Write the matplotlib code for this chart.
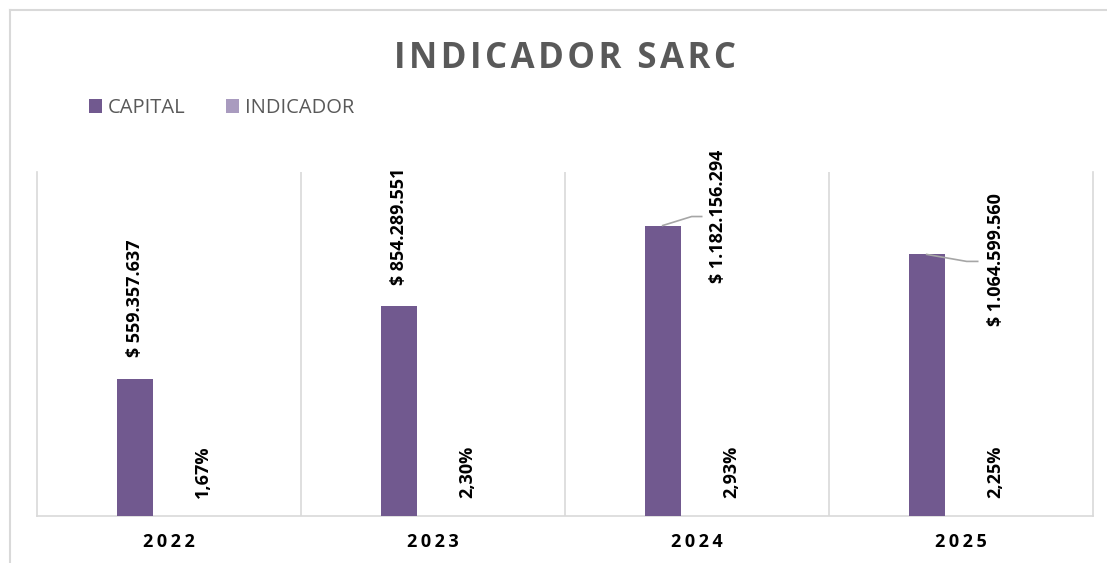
import matplotlib
matplotlib.use("Agg")
import matplotlib.pyplot as plt
from matplotlib.lines import Line2D
from matplotlib.transforms import IdentityTransform

plt.rcParams['font.family'] = ['Open Sans', 'DejaVu Sans']

years = ["2022", "2023", "2024", "2025"]
capital = [559357637, 854289551, 1182156294, 1064599560]
indicador = [0.0167, 0.0230, 0.0293, 0.0225]
capital_labels = ["$ 559.357.637", "$ 854.289.551", "$ 1.182.156.294", "$ 1.064.599.560"]
indicador_labels = ["1,67%", "2,30%", "2,93%", "2,25%"]

C_CAP = '#71598F'
C_IND = '#A99BBF'
GRID = '#D9D9D9'
HS = '\u200a'

W, H = 1107, 563
fig = plt.figure(figsize=(W / 100, H / 100), dpi=100)
ax = fig.add_axes([37 / W, 1 - 516 / H, (1093 - 37) / W, (516 - 172) / H])

x = list(range(len(years)))
off = 0.13
bw = 0.136
b1 = ax.bar([i - off for i in x], capital, width=bw, color=C_CAP, label='CAPITAL', zorder=3)
b2 = ax.bar([i + off for i in x], indicador, width=bw, color=C_IND, label='INDICADOR', zorder=3)

ax.set_xlim(-0.5, len(years) - 0.5)
ax.set_ylim(0, 1.4e9)
ax.set_yticks([])
ax.set_xticks(x)
ax.set_xticklabels([(HS * 2).join(y) for y in years], fontsize=13, fontweight='bold', color='black')
ax.tick_params(axis='x', length=0, pad=12)
for b in [i + 0.5 for i in x[:-1]]:
    ax.axvline(b, color=GRID, lw=1.2, zorder=1)
for s in ['top']:
    ax.spines[s].set_visible(False)
for s in ['left', 'right', 'bottom']:
    ax.spines[s].set_color(GRID)
    ax.spines[s].set_linewidth(1.2)

fig.canvas.draw()

# capital labels: (dx, dy) pixel offsets of label bottom-center from bar top; leader flag
cap_offsets = [(0, 22, None), (0, 21, None), (55, -57, [(29, 9), (39, 9)]), (69, -72, [(40, -7), (51, -7)])]
for i, (val, lab) in enumerate(zip(capital, capital_labels)):
    dx, dy, leader = cap_offsets[i]
    ax.annotate(lab, xy=(i - off, val), xytext=(dx, dy), textcoords='offset pixels',
                rotation=90, ha='center', va='bottom', fontsize=13, fontweight='bold',
                color='black', zorder=5)
    if leader:
        px, py = ax.transData.transform((i - off, val))
        xs = [px] + [px + a for a, b in leader]
        ys = [py] + [py + b for a, b in leader]
        fig.add_artist(Line2D(xs, ys, transform=IdentityTransform(), color='#A6A6A6', lw=1.2))

for i, (val, lab) in enumerate(zip(indicador, indicador_labels)):
    ax.annotate(lab, xy=(i + off, val), xytext=(0, 18), textcoords='offset pixels',
                rotation=90, ha='center', va='bottom', fontsize=13, fontweight='bold',
                color='black', zorder=5)

fig.text(564.5 / W, 1 - 68 / H, HS.join("INDICADOR SARC"), ha='center', va='baseline',
         fontsize=25, fontweight='bold', color='#595959')

fig.legend(handles=[b1, b2], labels=['CAPITAL', 'INDICADOR'], loc='upper left',
           bbox_to_anchor=(89 / W, 1 - 98 / H), ncol=2, frameon=False, fontsize=14.5,
           labelcolor='#595959', handlelength=0.65, handleheight=0.65, handletextpad=0.3,
           columnspacing=2.0, borderpad=0, borderaxespad=0)

# chart-area border
fig.add_artist(Line2D([10 / W, 10 / W], [0, 1 - 10 / H], transform=fig.transFigure, color=GRID, lw=1.5))
fig.add_artist(Line2D([10 / W, 1], [1 - 10 / H, 1 - 10 / H], transform=fig.transFigure, color=GRID, lw=1.5))

fig.savefig('out.png', dpi=100)
